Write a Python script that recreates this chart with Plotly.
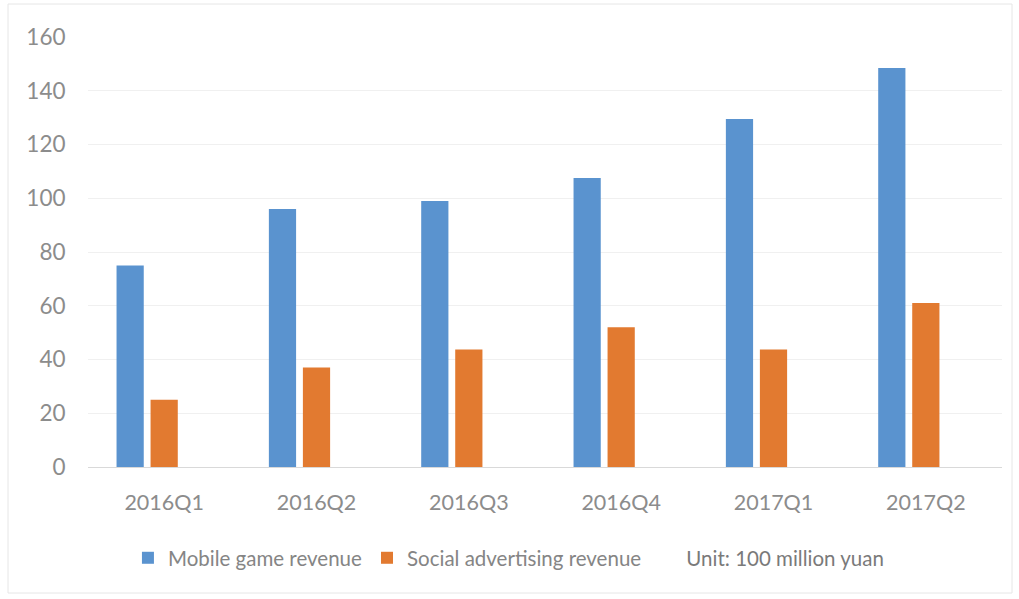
import plotly.graph_objects as go

quarters = ["2016Q1", "2016Q2", "2016Q3", "2016Q4", "2017Q1", "2017Q2"]
mobile_game = [75, 96, 99, 107.5, 129.5, 148.5]
social_ads = [25, 37, 43.7, 52, 43.7, 61]
unit_note = [None, None, None, None, None, None]

y_ticks = [0, 20, 40, 60, 80, 100, 120, 140, 160]

W, H = 1019, 599
ML, MR, MT, MB = 88, 17, 37, 132
pw, ph = W - ML - MR, H - MT - MB

font_family = "Lato, 'Open Sans', sans-serif"
axis_grey = "#8c8c8c"

fig = go.Figure()
fig.add_trace(go.Bar(x=quarters, y=mobile_game, name="Mobile game revenue",
                     marker=dict(color="#5A93CF", line_width=0)))
fig.add_trace(go.Bar(x=quarters, y=social_ads, name="Social advertising revenue",
                     marker=dict(color="#E27A30", line_width=0)))
fig.add_trace(go.Bar(x=quarters, y=unit_note,
                     name="<span style='color:#7a7a7a'>Unit: 100 million yuan</span>",
                     marker=dict(color="rgba(0,0,0,0)", line_width=0)))

# faint frame around the whole chart
fig.add_shape(type="rect", xref="paper", yref="paper",
              x0=(8 - ML) / pw, x1=(1012 - ML) / pw,
              y0=-(593 - MT - ph) / ph, y1=1 + (MT - 4) / ph,
              line=dict(color="#e6e6e6", width=1), fillcolor="rgba(0,0,0,0)", layer="below")

fig.update_layout(
    width=W, height=H,
    margin=dict(l=ML, r=MR, t=MT, b=MB),
    paper_bgcolor="white", plot_bgcolor="white",
    barmode="group", bargap=0.33, bargroupgap=0.2,
    font=dict(family=font_family, size=21, color=axis_grey),
    showlegend=True,
    legend=dict(orientation="h", x=0.46, xanchor="center", y=-0.165, yanchor="top",
                font=dict(size=20.5, color="#858585"), itemwidth=30,
                traceorder="normal", bgcolor="rgba(0,0,0,0)"),
    xaxis=dict(showgrid=False, showline=True, linecolor="#d9d9d9", linewidth=1,
               ticks="outside", ticklen=16, tickcolor="rgba(0,0,0,0)",
               tickfont=dict(size=21.5, color=axis_grey)),
    yaxis=dict(range=[0, 160], tickvals=y_ticks, showgrid=True, gridcolor="#f0f0f0",
               gridwidth=1, zeroline=False, showline=False,
               ticks="outside", ticklen=17, tickcolor="rgba(0,0,0,0)",
               tickfont=dict(size=22.5, color=axis_grey)),
)

fig.write_html("out.html")
